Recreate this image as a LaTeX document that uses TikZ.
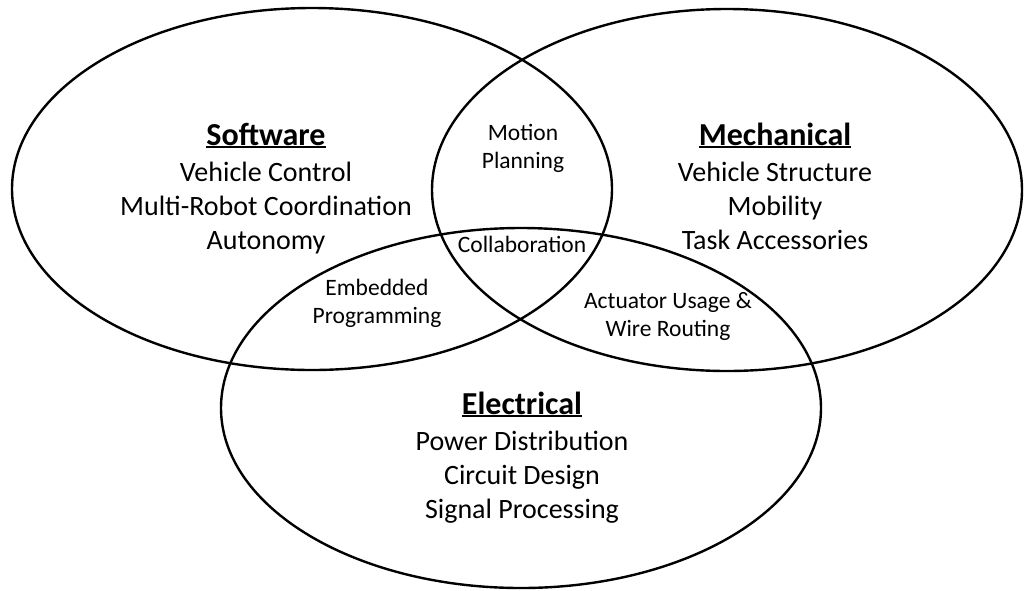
\documentclass[tikz,border=0pt]{standalone}
\usepackage{fontspec}
\setmainfont{Carlito}
\usetikzlibrary{shapes.geometric}

% bold heading with a tight underline just below the baseline
\newcommand\hdline[1]{{\fontsize{32}{36}\selectfont\bfseries
  \setbox0\hbox{#1}\rlap{\vrule width\wd0 height -1.2pt depth 2.8pt}\box0}}

% text nodes are placed by the baseline of their last line
\tikzset{
  area/.style={ellipse, draw, line width=2.4pt, inner sep=0pt, outer sep=0pt},
  bigtext/.style={align=center, anchor=base, inner sep=0pt,
    font=\fontsize{28}{34}\selectfont},
  smalltext/.style={align=center, anchor=base, inner sep=0pt,
    font=\fontsize{23.5}{27.5}\selectfont}
}

\begin{document}
\begin{tikzpicture}[x=1pt,y=-1pt]
  \useasboundingbox (0,0) rectangle (1026,590);

  % the three overlapping fields
  \node[area, minimum width=600pt, minimum height=362pt] (sw) at (312,189) {};
  \node[area, minimum width=590pt, minimum height=362pt] (me) at (727,190) {};
  \node[area, minimum width=600pt, minimum height=360pt] (el) at (521,408) {};

  % field descriptions
  \node[bigtext] (swt) at (266,249) {\hdline{Software}\\[2pt]
    Vehicle Control\\ Multi-Robot Coordination\\ Autonomy};
  \node[bigtext] (met) at (775,249) {\hdline{Mechanical}\\[2pt]
    Vehicle Structure\\ Mobility\\ Task Accessories};
  \node[bigtext] (elt) at (522,518) {\hdline{Electrical}\\[2pt]
    Power Distribution\\ Circuit Design\\ Signal Processing};

  % overlaps
  \node[smalltext] (swme) at (523,168) {Motion\\ Planning};
  \node[smalltext] (all)  at (522,252) {Collaboration};
  \node[smalltext] (swel) at (377,323) {Embedded\\ Programming};
  \node[smalltext] (meel) at (668,336) {Actuator Usage \&\\ Wire Routing};
\end{tikzpicture}
\end{document}
